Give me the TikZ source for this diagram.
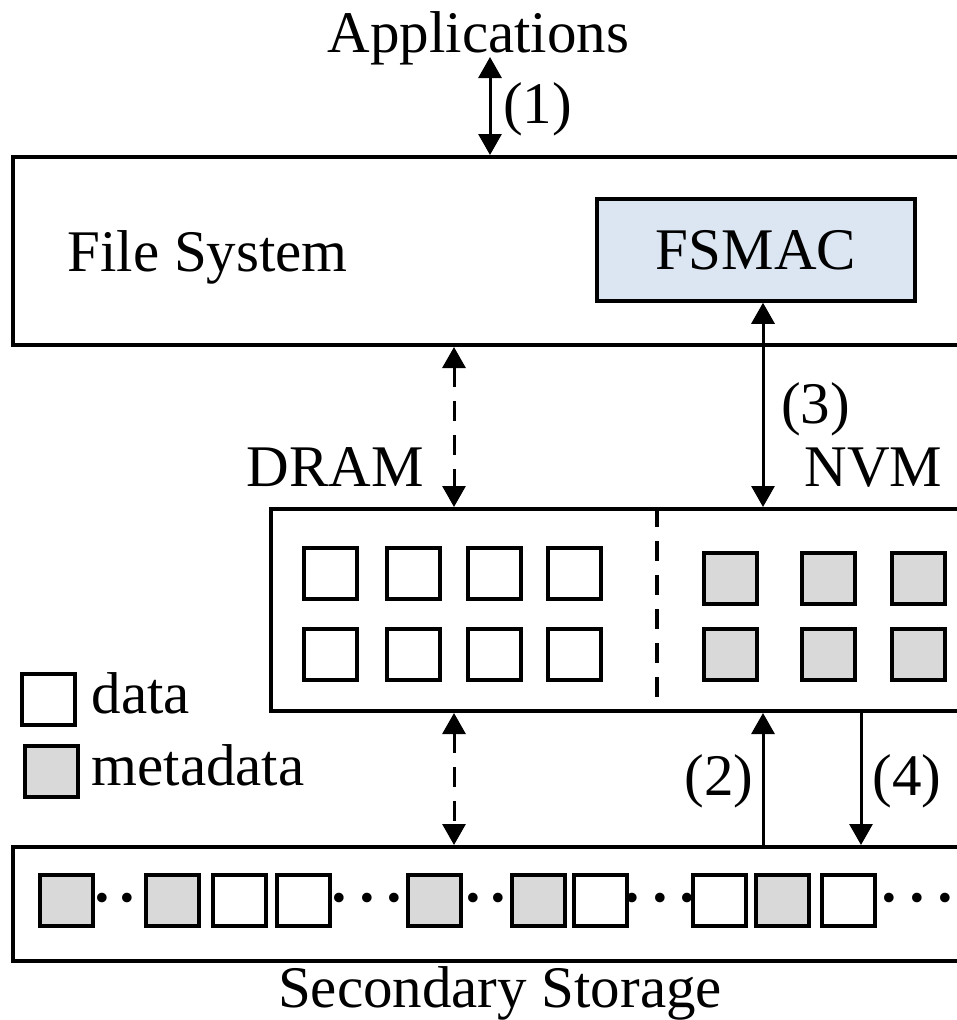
\documentclass[tikz,border=0pt]{standalone}
\usepackage{fontspec}
\setmainfont{Liberation Serif}
\usetikzlibrary{arrows.meta,positioning}
\definecolor{fsmacblue}{HTML}{DCE6F2}
\definecolor{metagrey}{HTML}{D9D9D9}
\newcommand{\dotstwo}{\bfseries·\kern5pt·}
\newcommand{\dotsthree}{\bfseries·\kern8pt·\kern8pt·}
\tikzset{
  layer/.style={draw, line width=4pt, inner sep=0pt},
  cell/.style={draw, line width=4pt, minimum width=53pt, minimum height=51pt, inner sep=0pt},
  datacell/.style={cell, fill=white},
  metacell/.style={cell, fill=metagrey},
  link/.style={line width=3pt, -{Triangle[length=21pt,width=23pt]}},
  bilink/.style={line width=3pt, {Triangle[length=21pt,width=23pt]}-{Triangle[length=21pt,width=23pt]}},
  dlink/.style={bilink, dash pattern=on 20pt off 14pt},
}

\begin{document}
\begin{tikzpicture}[x=1pt, y=-1pt, font=\fontsize{59}{70}\selectfont]
  \useasboundingbox (0,0) rectangle (956,1020);

  % file system layer
  \node[anchor=base] (apps) at (478.5,52) {Applications};
  \node[layer, minimum width=987pt, minimum height=188pt] (fs) at (506.5,251) {};
  \node[anchor=base west] (fstext) at (64,271) {File System};
  \node[layer, line width=3.5pt, fill=fsmacblue, minimum width=318pt, minimum height=102pt] (fsmac) at (756,250) {FSMAC};

  % memory: DRAM | NVM
  \node[layer, minimum width=729pt, minimum height=202pt] (mem) at (635.5,610) {};
  \node[anchor=base] (dram) at (335,486) {DRAM};
  \node[anchor=base] (nvm) at (873.5,486) {NVM};
  \coordinate (dv) at (657,0);
  \draw[line width=3.5pt, dash pattern=on 20pt off 14pt] (mem.north -| dv) -- (mem.south -| dv);
  \foreach \x [count=\i] in {330,413,494,574} {
    \node[datacell] (d1\i) at (\x,573) {};
    \node[datacell] (d2\i) at (\x,654) {};
  }
  \foreach \x [count=\i] in {730,828,918} {
    \node[metacell] (m1\i) at (\x,578) {};
    \node[metacell] (m2\i) at (\x,654) {};
  }

  % legend
  \node[datacell] (legdata) at (48.5,699.5) {};
  \node[anchor=base west] (legdatatext) at (88,713) {data};
  \node[metacell] (legmeta) at (51.5,771.5) {};
  \node[anchor=base west] (legmetatext) at (88,785) {metadata};

  % secondary storage
  \node[layer, minimum width=987pt, minimum height=114pt] (sto) at (506.5,904) {};
  \node[anchor=base] (stotext) at (500,1007) {Secondary Storage};
  \foreach \x/\s [count=\i] in {66/metacell,172/metacell,239/datacell,303/datacell,434/metacell,538.5/metacell,600.5/datacell,719.5/datacell,782.5/metacell,848/datacell}
    \node[\s] (s\i) at (\x,900.5) {};
  \foreach \x/\t [count=\i] in {115/\dotstwo,367/\dotsthree,486/\dotstwo,660/\dotsthree,917.5/\dotsthree}
    \node[anchor=base, inner sep=0pt] (gap\i) at (\x,917) {\t};

  % connectors
  \coordinate (ax) at (490,57);
  \draw[bilink] (ax) -- (fs.north -| ax);
  \node (lab1) at (537.5,109) {(1)};

  \coordinate (dx) at (454,0);
  \draw[dlink] (fs.south -| dx) -- (mem.north -| dx);
  \draw[dlink] (mem.south -| dx) -- (sto.north -| dx);

  \coordinate (nx) at (763,0);
  \draw[bilink] (fsmac.south -| nx) -- (mem.north -| nx);
  \node (lab3) at (815.5,409) {(3)};
  \draw[link] (sto.north -| nx) -- (mem.south -| nx);
  \node (lab2) at (719,781) {(2)};

  \coordinate (wx) at (861,0);
  \draw[link] (mem.south -| wx) -- (sto.north -| wx);
  \node (lab4) at (907,781) {(4)};
\end{tikzpicture}
\end{document}
